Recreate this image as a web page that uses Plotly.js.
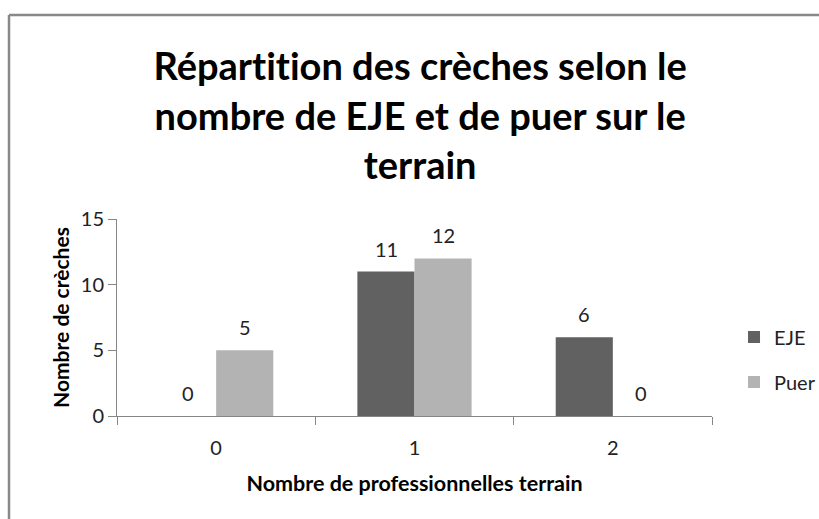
<!DOCTYPE html>
<html>
<head>
<meta charset="utf-8">
<script src="https://cdn.plot.ly/plotly-3.0.1.min.js"></script>
<style>html,body{margin:0;padding:0;background:#fff;}#chart{width:819px;height:519px;}#chart text{font-variant-ligatures:none;font-feature-settings:"liga" 0;}</style>
</head>
<body>
<div id="chart"></div>
<script>
const categories = ["0", "1", "2"];
const seriesNames = ["EJE", "Puer"];
const ejeValues = [0, 11, 6];
const puerValues = [5, 12, 0];
const yTicks = [0, 5, 10, 15];

const colors = ["#616161", "#b3b3b3"];
const FONT = "Lato, 'Open Sans', sans-serif";
const seriesValues = [ejeValues, puerValues];

const traces = seriesValues.map((vals, i) => ({
  type: "bar",
  name: seriesNames[i],
  x: categories,
  y: vals,
  marker: {color: colors[i]},
  legendgroup: seriesNames[i],
  hoverinfo: "x+y+name"
}));

const annotations = [];
seriesValues.forEach((vals, i) => {
  vals.forEach((v, j) => {
    annotations.push({
      x: categories[j], y: v, xref: "x", yref: "y",
      text: String(v), showarrow: false,
      xshift: (i === 0 ? -28.5 : 28.5), yshift: 23,
      yanchor: "middle",
      font: {family: FONT, size: 20, color: "#222"}
    });
  });
});

const layout = {
  width: 819, height: 519,
  margin: {l: 117, r: 107, t: 219, b: 103, autoexpand: false},
  paper_bgcolor: "#fff", plot_bgcolor: "#fff",
  barmode: "group", bargap: 0.424, bargroupgap: 0,
  title: {
    text: "Répartition des crèches selon le<br>nombre de EJE et de puer sur le<br>terrain",
    font: {family: FONT, size: 38, color: "#000", weight: "bold"},
    x: 0.513, xanchor: "center", y: 0.845, yanchor: "top", yref: "container"
  },
  xaxis: {
    type: "category",
    showline: true, linecolor: "#868686", linewidth: 1,
    ticks: "outside", tickson: "boundaries", ticklen: 8, tickcolor: "#868686",
    tickfont: {family: FONT, size: 20, color: "#222"},
    ticklabelstandoff: 14,
    showgrid: false, zeroline: false,
    title: {text: "Nombre de professionnelles terrain", font: {family: FONT, size: 21.5, color: "#000", weight: "bold"}, standoff: 17}
  },
  yaxis: {
    range: [0, 15], tickvals: yTicks, ticktext: yTicks.map(String),
    showline: true, linecolor: "#868686", linewidth: 1,
    ticks: "outside", ticklen: 8, tickcolor: "#868686",
    tickfont: {family: FONT, size: 20, color: "#222"},
    showgrid: false, zeroline: false,
    title: {text: "Nombre de crèches", font: {family: FONT, size: 21, color: "#000", weight: "bold"}, standoff: 5}
  },
  legend: {
    x: 1.037, xanchor: "left", y: 0.50, yanchor: "top",
    traceorder: "grouped", tracegroupgap: 16,
    font: {family: FONT, size: 20, color: "#222"},
    bgcolor: "rgba(0,0,0,0)"
  },
  annotations: annotations,
  shapes: [
    {type: "line", xref: "paper", yref: "paper", x0: -0.1815, x1: 2, y0: 2.0355, y1: 2.0355, line: {color: "#898989", width: 2.5}},
    {type: "line", xref: "paper", yref: "paper", x0: -0.1815, x1: -0.1815, y0: -1, y1: 2.0355, line: {color: "#898989", width: 2.5}}
  ]
};

Plotly.newPlot("chart", traces, layout, {displayModeBar: false, staticPlot: true});
</script>
</body>
</html>
